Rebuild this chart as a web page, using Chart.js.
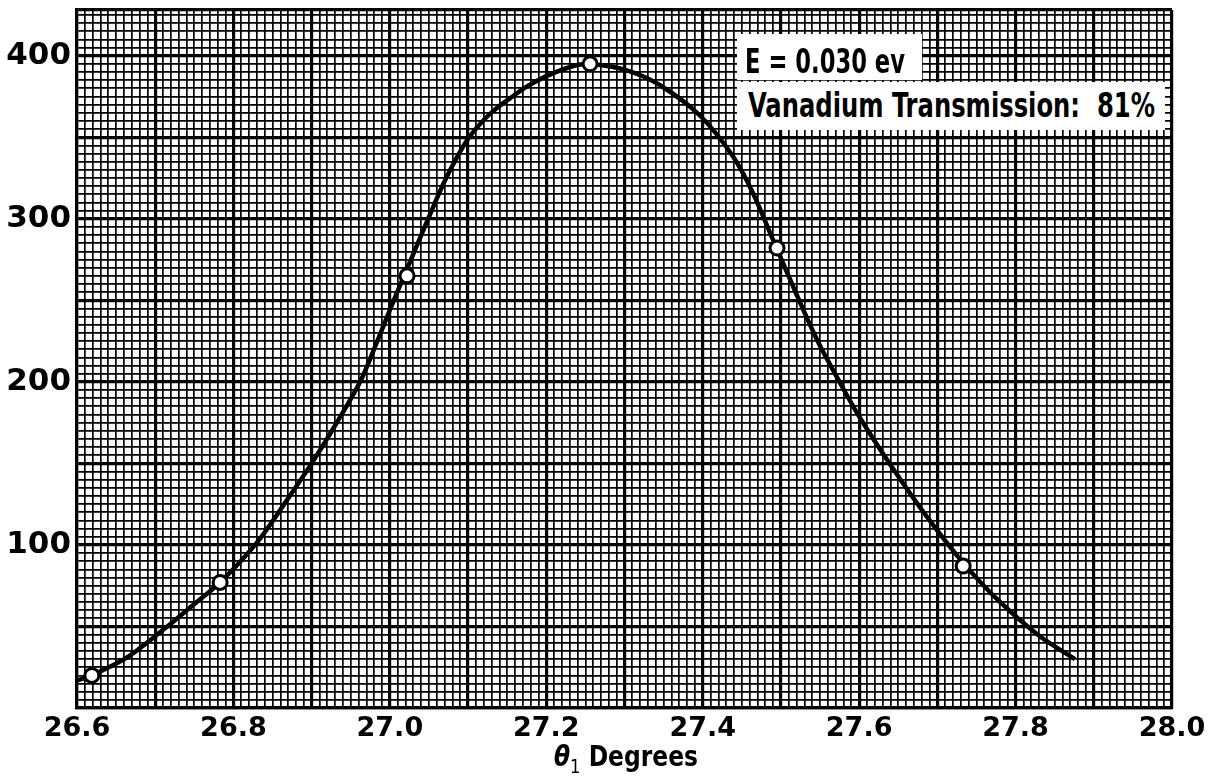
<!DOCTYPE html>
<html>
<head>
<meta charset="utf-8">
<script src="https://cdn.jsdelivr.net/npm/chart.js@4/dist/chart.umd.min.js"></script>
<style>
  html, body { margin: 0; padding: 0; background: #fff; }
  #wrap { position: relative; width: 1213px; height: 782px; overflow: hidden; }
  canvas { position: absolute; left: 0; top: 0; }
  .box { position: absolute; background: #fff; }
  .lbl {
    position: absolute; white-space: pre; color: #000;
    font-family: "DejaVu Sans Condensed", "DejaVu Sans", sans-serif;
    font-stretch: condensed; font-weight: bold;
    transform-origin: 0 0;
  }
  .theta { font-style: italic; }
  .sub { font-size: 0.7em; position: relative; top: 0.35em; font-weight: normal; }
</style>
</head>
<body>
<div id="wrap">
  <canvas id="chart" width="1213" height="782"></canvas>
  <div class="box" style="left:737px; top:34px; width:185px; height:46px;"></div>
  <div class="box" style="left:737px; top:82px; width:428px; height:48px;"></div>
  <div class="lbl" data-w="160" style="left:745px; top:44px; font-size:34px; line-height:34px;">E = 0.030 ev</div>
  <div class="lbl" data-w="407" style="left:748px; top:88px; font-size:34px; line-height:34px;">Vanadium Transmission:  81%</div>
  <div class="lbl" data-w="144" style="left:554px; top:742px; font-size:29px; line-height:29px;"><span class="theta">θ</span><span class="sub">1</span> Degrees</div>
</div>
<script>
// measured points (circles)
const pointDeg = [26.619, 26.783, 27.022, 27.256, 27.495, 27.733];
const pointCounts = [20, 77, 265, 395, 282, 87];

// drawn curve
const curveDeg = [26.601, 26.619, 26.664, 26.713, 26.748, 26.783, 26.831, 26.872, 26.900, 26.931,
                  26.962, 26.984, 27.005, 27.027, 27.049, 27.068, 27.085, 27.100, 27.115, 27.132,
                  27.154, 27.175, 27.198, 27.218, 27.237, 27.256, 27.303, 27.345, 27.397, 27.439,
                  27.464, 27.490, 27.516, 27.546, 27.576, 27.601, 27.643, 27.687, 27.733, 27.780,
                  27.831, 27.876];
const curveCounts = [17, 20, 31, 49, 63, 77, 102, 130, 150, 174,
                     200, 225, 250, 275, 300, 321, 337, 349, 358, 366,
                     374, 381, 387, 391, 394, 395, 391, 382, 363, 338,
                     316, 287, 258, 226, 199, 178, 147, 117, 89, 65,
                     44, 30];

// tick labels
const xTickLabels = [26.6, 26.8, 27.0, 27.2, 27.4, 27.6, 27.8, 28.0];
const yTickLabels = [100, 200, 300, 400];

const xMin = 26.6, xMax = 28.0;
const yMin = 0, yMax = 428;

function isMajorX(v) {
  const k = Math.round(v * 100);
  return k % 10 === 0;
}

function isMajorY(v) {
  return v % 50 === 0 || v === yMax;
}

const ctx = document.getElementById('chart').getContext('2d');

new Chart(ctx, {
  type: 'scatter',
  data: {
    datasets: [
      {
        label: 'Measured',
        data: pointDeg.map((x, i) => ({ x, y: pointCounts[i] })),
        showLine: false,
        pointRadius: 7,
        pointBorderWidth: 3,
        pointBackgroundColor: '#fff',
        pointBorderColor: '#000'
      },
      {
        label: 'Curve',
        data: curveDeg.map((x, i) => ({ x, y: curveCounts[i] })),
        showLine: true,
        borderColor: '#000',
        borderWidth: 4.5,
        pointRadius: 0,
        tension: 0.3
      }
    ]
  },
  options: {
    responsive: false,
    animation: false,
    layout: { padding: { top: 10, right: 41, left: 0, bottom: 0 } },
    plugins: { legend: { display: false }, tooltip: { enabled: false } },
    scales: {
      x: {
        type: 'linear',
        min: xMin,
        max: xMax,
        afterBuildTicks: s => {
          s.ticks = [];
          for (let k = 0; k <= 140; k++) s.ticks.push({ value: (2660 + k) / 100 });
        },
        afterFit: s => {
          s.height = 74;
          s.paddingLeft = 0;
          s.paddingRight = 0;
        },
        grid: {
          color: '#000',
          lineWidth: c => (c.tick && isMajorX(c.tick.value)) ? 3.2 : 1.7,
          drawTicks: false
        },
        border: { display: true, color: '#000', width: 3.2 },
        ticks: {
          autoSkip: false,
          maxRotation: 0,
          padding: 5,
          color: '#000',
          font: { family: 'DejaVu Sans', weight: 'bold', size: 27 },
          callback: v => {
            const l = xTickLabels.find(t => Math.abs(t - v) < 1e-6);
            return l === undefined ? '' : l.toFixed(1);
          }
        }
      },
      y: {
        type: 'linear',
        min: yMin,
        max: yMax,
        afterBuildTicks: s => {
          s.ticks = [];
          for (let v = 0; v < yMax; v += 5) s.ticks.push({ value: v });
          s.ticks.push({ value: yMax });
        },
        afterFit: s => {
          s.width = 77;
          s.paddingTop = 0;
          s.paddingBottom = 0;
        },
        grid: {
          color: '#000',
          lineWidth: c => (c.tick && isMajorY(c.tick.value)) ? 3.2 : 1.7,
          drawTicks: false
        },
        border: { display: true, color: '#000', width: 3.2 },
        ticks: {
          autoSkip: false,
          padding: 6,
          color: '#000',
          font: { family: 'DejaVu Sans', weight: 'bold', size: 31 },
          callback: v => yTickLabels.includes(v) ? String(v) : ''
        }
      }
    }
  }
});

// squeeze the hand-lettered labels to their width in the original
document.querySelectorAll('.lbl').forEach(el => {
  const w = el.getBoundingClientRect().width;
  const target = +el.dataset.w;
  if (w > 0) el.style.transform = `scaleX(${target / w})`;
});
</script>
</body>
</html>
